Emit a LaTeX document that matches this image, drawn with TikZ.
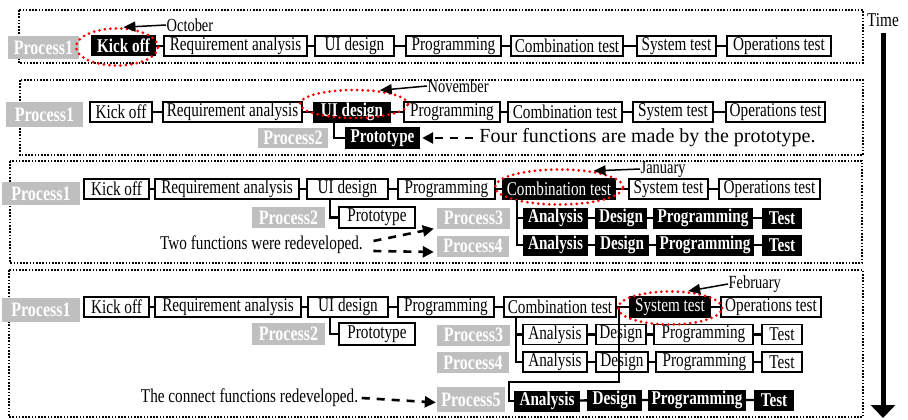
\documentclass[tikz,border=0pt]{standalone}
\usepackage{fontspec}
\setmainfont[FakeStretch=0.78]{Liberation Serif}
\newfontfamily\widefont{Liberation Serif}
\usetikzlibrary{arrows.meta,shapes.geometric}
\definecolor{procgray}{RGB}{191,191,191}

\tikzset{
  txt/.style={font=\fontsize{19.5}{20}\selectfont, inner sep=0.5pt},
  wbox/.style={txt, draw, fill=white, line width=1.8pt, minimum height=20pt},
  nowbox/.style={wbox, fill=black, text=white},
  bbox/.style={txt, fill=black, text=white, font=\fontsize{19.5}{20}\selectfont\bfseries, minimum height=21pt},
  proc/.style={txt, fill=procgray, text=white, font=\fontsize{20.5}{21}\selectfont\bfseries, minimum height=21pt},
  monthtxt/.style={txt, font=\fontsize{18.5}{19}\selectfont, anchor=west},
  link/.style={line width=2.4pt},
  frame/.style={line width=1.6pt, dash pattern=on 1.6pt off 1.6pt},
  ring/.style={ellipse, draw=red, line width=3pt, dash pattern=on 0pt off 5.5pt, line cap=round, inner sep=0pt},
  month/.style={-{Triangle[length=12pt,width=10pt]}, line width=1.5pt},
  dasharrow/.style={-{Triangle[length=11pt,width=11pt]}, line width=2.6pt, dash pattern=on 8pt off 7pt},
  timeline/.style={-{Triangle[length=13pt,width=24pt]}, line width=5pt},
}

\begin{document}
\begin{tikzpicture}[x=1pt,y=-1pt]
\useasboundingbox (0,0) rectangle (908,420);

% Draw dotted frames of the four stages
\draw[frame] (19,10) rectangle (863,63);
\draw[frame] (20,80) rectangle (863,155);
\draw[frame] (10,161) rectangle (862,263);
\draw[frame] (9,270) rectangle (863,417);

% Draw time axis
\node[txt] (time) at (883,20) {Time};
\coordinate (tEnd) at (883,418);
\draw[timeline] ([yshift=-6pt]time.south) -- (tEnd);

% Stage 1: October
\node[proc, minimum width=71, minimum height=23] (aP1) at (43.5,47.5) {Process1};
\node[bbox, minimum width=65] (aKick) at (123.5,46) {Kick off};
\node[wbox, minimum width=143] (aReq) at (235.5,46) {Requirement analysis};
\node[wbox, minimum width=79] (aUI) at (354.5,46) {UI design};
\node[wbox, minimum width=95] (aProg) at (453.5,46) {Programming};
\node[wbox, minimum width=112] (aComb) at (567,46) {Combination test};
\node[wbox, minimum width=79] (aSys) at (676.5,46) {System test};
\node[wbox, minimum width=104] (aOps) at (779,46) {Operations test};
\draw[link] (aKick) -- (aReq) (aReq) -- (aUI) (aUI) -- (aProg)
  (aProg) -- (aComb) (aComb) -- (aSys) (aSys) -- (aOps);
\node[ring, minimum width=82, minimum height=37] (aRing) at (117,47) {};
\node[monthtxt] (aMonth) at (166,25) {October};
\draw[month] (aMonth.west) -- (aRing.72);

% Stage 2: November
\node[proc, minimum width=77, minimum height=25] (bP1) at (44.5,114.5) {Process1};
\node[wbox, minimum width=62] (bKick) at (121,112) {Kick off};
\node[wbox, minimum width=139] (bReq) at (232.5,112) {Requirement analysis};
\node[bbox, minimum width=78] (bUI) at (352,112) {UI design};
\node[wbox, minimum width=96] (bProg) at (452,112) {Programming};
\node[wbox, minimum width=114] (bComb) at (565,112) {Combination test};
\node[wbox, minimum width=80] (bSys) at (673,112) {System test};
\node[wbox, minimum width=99] (bOps) at (775.5,112) {Operations test};
\draw[link] (bKick) -- (bReq) (bReq) -- (bUI) (bUI) -- (bProg)
  (bProg) -- (bComb) (bComb) -- (bSys) (bSys) -- (bOps);
\node[ring, minimum width=108, minimum height=28] (bRing) at (354,104) {};
\node[monthtxt] (bMonth) at (427,86) {November};
\draw[month] (bMonth.west) -- (bRing.28);
\node[proc, minimum width=70, minimum height=20] (bP2) at (293,138) {Process2};
\node[bbox, minimum width=75, minimum height=22] (bProto) at (382.5,138) {Prototype};
\draw[link] ([xshift=-18pt]bUI.south) |- (bProto.west);
\node[txt, font=\widefont\fontsize{20}{21}\selectfont] (bNote) at (647.5,138) {Four functions are made by the prototype.};
\draw[dasharrow] ([xshift=-6pt]bNote.west) -- ([xshift=2pt]bProto.east);

% Stage 3: January
\node[proc, minimum width=78, minimum height=23] (cP1) at (41,193.5) {Process1};
\node[wbox, minimum width=65] (cKick) at (116.5,189) {Kick off};
\node[wbox, minimum width=144] (cReq) at (227,189) {Requirement analysis};
\node[wbox, minimum width=81] (cUI) at (347.5,189) {UI design};
\node[wbox, minimum width=97] (cProg) at (446.5,189) {Programming};
\node[nowbox, minimum width=112] (cComb) at (559,189) {Combination test};
\node[wbox, minimum width=79] (cSys) at (668.5,189) {System test};
\node[wbox, minimum width=101] (cOps) at (769.5,189) {Operations test};
\draw[link] (cKick) -- (cReq) (cReq) -- (cUI) (cUI) -- (cProg)
  (cProg) -- (cComb) (cComb) -- (cSys) (cSys) -- (cOps);
\node[ring, minimum width=128, minimum height=35] (cRing) at (559,187) {};
\node[monthtxt] (cMonth) at (640,169) {January};
\draw[month] (cMonth.west) -- (cRing.25);
\node[proc, minimum width=73] (cP2) at (288.5,217.5) {Process2};
\node[wbox, minimum width=76, minimum height=21] (cProto) at (377,217.5) {Prototype};
\draw[link] ([xshift=-17.5pt]cUI.south) |- (cProto.west);
\node[proc, minimum width=73] (cP3) at (473.5,218) {Process3};
\node[proc, minimum width=72] (cP4) at (473,246) {Process4};
\node[bbox, minimum width=65] (c3an) at (555.5,218) {Analysis};
\node[bbox, minimum width=52] (c3de) at (621,218) {Design};
\node[bbox, minimum width=100] (c3pr) at (703,218) {Programming};
\node[bbox, minimum width=40] (c3te) at (782,218) {Test};
\node[bbox, minimum width=65] (c4an) at (555.5,245) {Analysis};
\node[bbox, minimum width=54] (c4de) at (622,245) {Design};
\node[bbox, minimum width=98] (c4pr) at (705,245) {Programming};
\node[bbox, minimum width=40] (c4te) at (782,245) {Test};
\draw[link] ([xshift=-42pt]cComb.south) |- (c3an.west);
\draw[link] ([xshift=-42pt]cComb.south) |- (c4an.west);
\draw[link] (c3an) -- (c3de) (c3de) -- (c3pr) (c3pr) -- (c3te);
\draw[link] (c4an) -- (c4de) (c4de) -- (c4pr) (c4pr) -- (c4te);
\node[txt] (cNote) at (261.5,245) {Two functions were redeveloped.};
\draw[dasharrow] ([xshift=10pt,yshift=4pt]cNote.east) -- ([xshift=-3pt]cP3.south west);
\draw[dasharrow] ([xshift=10pt,yshift=-6pt]cNote.east) -- ([xshift=-3pt,yshift=-6pt]cP4.west);

% Stage 4: February
\node[proc, minimum width=78, minimum height=24] (dP1) at (41,310) {Process1};
\node[wbox, minimum width=65] (dKick) at (116.5,307) {Kick off};
\node[wbox, minimum width=146] (dReq) at (228,307) {Requirement analysis};
\node[wbox, minimum width=80] (dUI) at (348,307) {UI design};
\node[wbox, minimum width=96] (dProg) at (446,307) {Programming};
\node[wbox, minimum width=112] (dComb) at (560,307) {Combination test};
\node[nowbox, minimum width=80] (dSys) at (670,307) {System test};
\node[wbox, minimum width=100] (dOps) at (771,307) {Operations test};
\draw[link] (dKick) -- (dReq) (dReq) -- (dUI) (dUI) -- (dProg)
  (dProg) -- (dComb) (dComb) -- (dSys) (dSys) -- (dOps);
\node[proc, minimum width=73, minimum height=22] (dP2) at (288.5,333.5) {Process2};
\node[wbox, minimum width=76, minimum height=22] (dProto) at (377,334) {Prototype};
\draw[link] ([xshift=-18pt]dUI.south) |- (dProto.west);
\node[proc, minimum width=73] (dP3) at (473.5,335) {Process3};
\node[proc, minimum width=72] (dP4) at (473,362.5) {Process4};
\node[proc, minimum width=68, minimum height=25] (dP5) at (471,399.5) {Process5};
\node[wbox, minimum width=64] (d3an) at (555,334.5) {Analysis};
\node[wbox, minimum width=50] (d3de) at (621,334.5) {Design};
\node[wbox, minimum width=99] (d3pr) at (703.5,334.5) {Programming};
\node[wbox, minimum width=40] (d3te) at (782,334.5) {Test};
\node[wbox, minimum width=64] (d4an) at (555,362) {Analysis};
\node[wbox, minimum width=52] (d4de) at (622,362) {Design};
\node[wbox, minimum width=97] (d4pr) at (704.5,362) {Programming};
\node[wbox, minimum width=40] (d4te) at (782,362) {Test};
\node[bbox, minimum width=66] (d5an) at (547,401) {Analysis};
\node[bbox, minimum width=55] (d5de) at (614.5,400) {Design};
\node[bbox, minimum width=98] (d5pr) at (697,400) {Programming};
\node[bbox, minimum width=40] (d5te) at (774,400) {Test};
\draw[link] ([xshift=-44pt]dComb.south) |- (d3an.west);
\draw[link] ([xshift=-44pt]dComb.south) |- (d4an.west);
\draw[link] (d3an) -- (d3de) (d3de) -- (d3pr) (d3pr) -- (d3te);
\draw[link] (d4an) -- (d4de) (d4de) -- (d4pr) (d4pr) -- (d4te);
\draw[link] (d5an) -- (d5de) (d5de) -- (d5pr) (d5pr) -- (d5te);
\draw[link] ([xshift=2pt]dComb.east) -- ++(0,75) -- ++(-110,0) |- (d5an.west);
\node[ring, minimum width=104, minimum height=33] (dRing) at (670,308) {};
\node[monthtxt] (dMonth) at (728,284) {February};
\draw[month] (dMonth.west) -- (dRing.43);
\node[txt] (dNote) at (249.5,398) {The connect functions redeveloped.};
\draw[dasharrow] ([xshift=3pt]dNote.east) -- ([xshift=-1pt,yshift=-3pt]dP5.west);
\end{tikzpicture}
\end{document}
